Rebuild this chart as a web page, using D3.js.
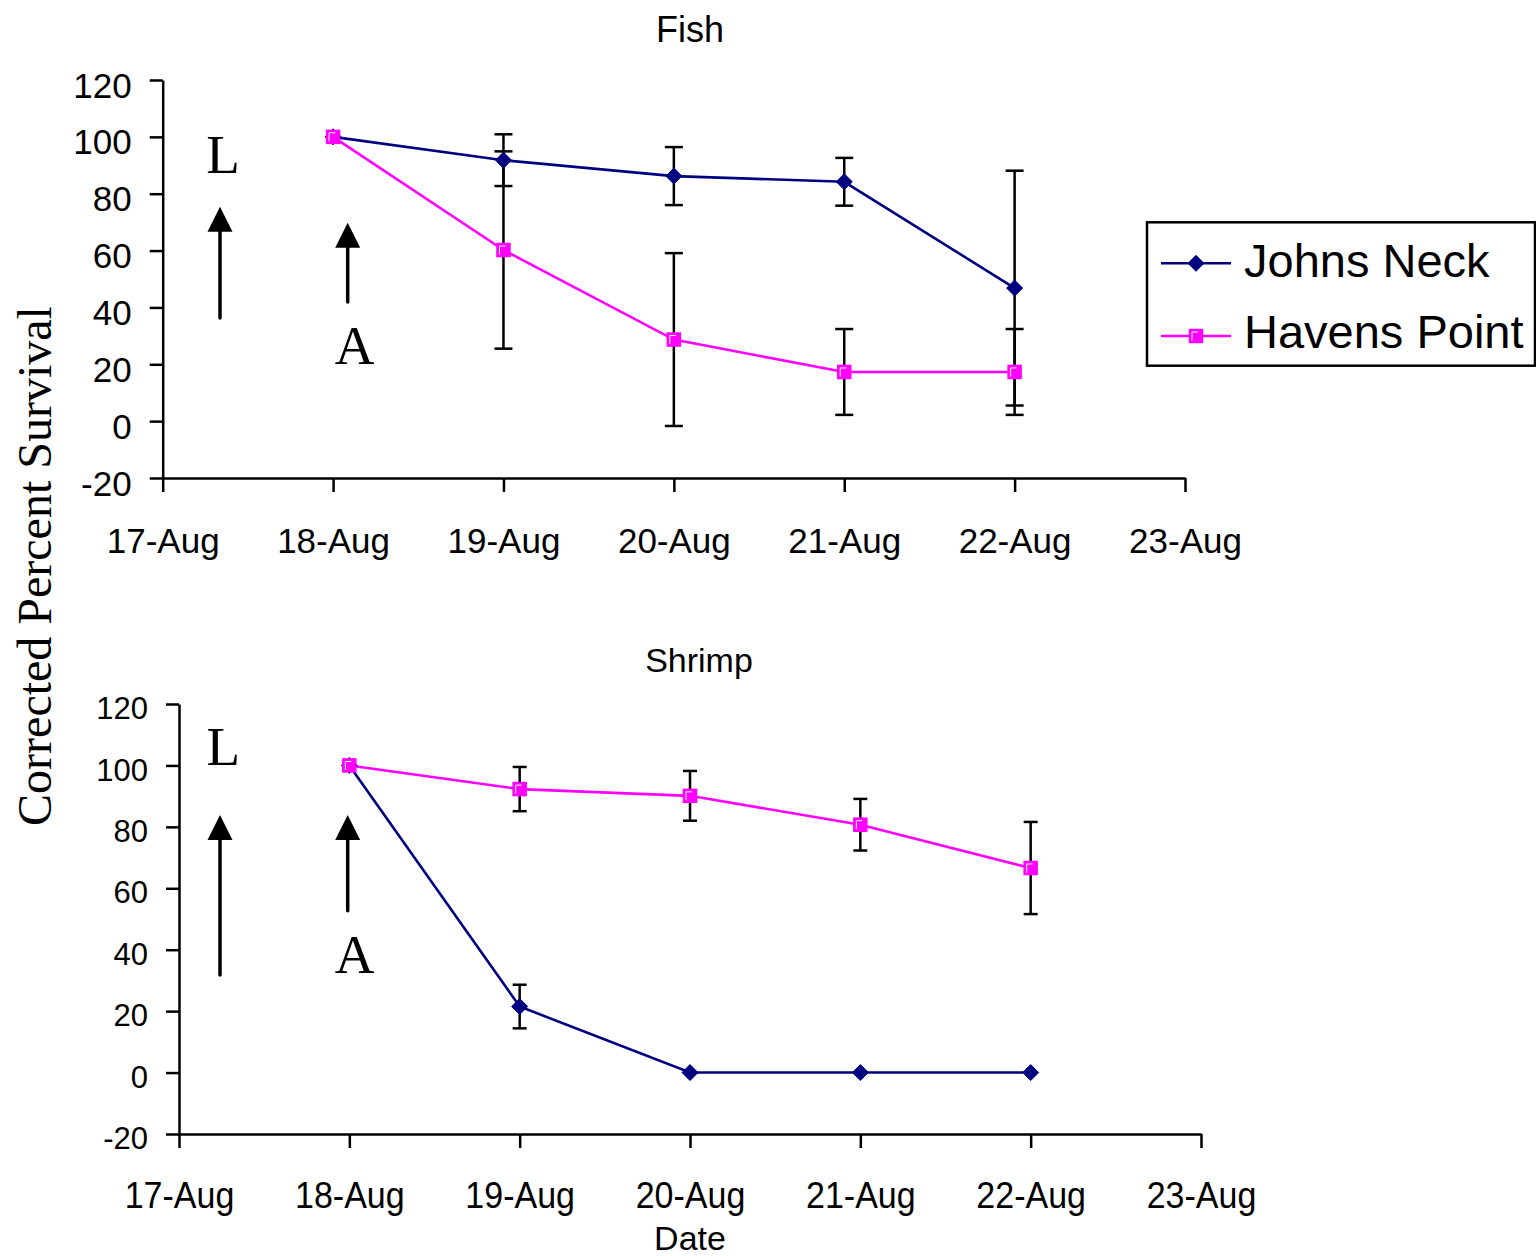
<!DOCTYPE html>
<html>
<head>
<meta charset="utf-8">
<script src="https://cdn.jsdelivr.net/npm/d3@7"></script>
<style>
  html, body { margin: 0; padding: 0; background: #fff; }
  svg { display: block; }
</style>
</head>
<body>
<svg id="chart" width="1536" height="1256"></svg>
<script>
// ---------------- DATA ----------------
const dateLabels = ["18-Aug", "19-Aug", "20-Aug", "21-Aug", "22-Aug"];
const axisStart = "17-Aug";
const axisEnd = "23-Aug";
const seriesNames = ["Johns Neck", "Havens Point"];

const fishJohns      = [100, 91.8, 86.2, 84.2, 46.8];
const fishJohnsErr   = [null, 9.1, 10.2, 8.4, 41.3];
const fishHavens     = [100, 60.2, 28.7, 17.3, 17.3];
const fishHavensErr  = [null, 34.7, 30.4, 15.1, 15.1];

const shrimpJohns     = [100, 21.5, 0, 0, 0];
const shrimpJohnsErr  = [null, 7.1, null, null, null];
const shrimpHavens    = [100, 92.3, 90.1, 80.7, 66.6];
const shrimpHavensErr = [null, 7.2, 8.1, 8.4, 15.0];

const yTicks = [-20, 0, 20, 40, 60, 80, 100, 120];

// ---------------- HELPERS ----------------
const parse = s => d3.timeParse("%d-%b-%Y")(s + "-2003");
const dates = dateLabels.map(parse);
const fmt = d3.timeFormat("%-d-%b");
const SANS = "'Liberation Sans', Arial, sans-serif";
const SERIF = "'Liberation Serif', 'Times New Roman', serif";
const NAVY = "#000080", MAG = "#FF00FF";

const svg = d3.select("#chart");

function diamond(g, x, y) {
  const r = 8;
  g.append("path")
    .attr("d", `M${x},${y-r}L${x+r},${y}L${x},${y+r}L${x-r},${y}Z`)
    .attr("fill", NAVY).attr("stroke", NAVY).attr("stroke-width", 1);
}
function square(g, x, y) {
  g.append("rect").attr("x", x-6.5).attr("y", y-6.5).attr("width", 13).attr("height", 13)
    .attr("fill", MAG).attr("stroke", MAG).attr("stroke-width", 1.5);
  g.append("path").attr("d", `M${x-4},${y+4.5}V${y-4}H${x+2}`)
    .attr("fill", "none").attr("stroke", "#fff").attr("stroke-width", 1);
}

function panel(cfg) {
  const x = d3.scaleTime().domain([parse(axisStart), parse(axisEnd)]).range([cfg.x0, cfg.x1]);
  const y = d3.scaleLinear().domain([-20, 120]).range([cfg.yb, cfg.yt]);
  const g = svg.append("g");

  // axes
  const xa = g.append("g").attr("transform", `translate(0,${cfg.yb})`)
    .call(d3.axisBottom(x).ticks(d3.timeDay.every(1)).tickFormat(fmt).tickSize(14).tickSizeOuter(0));
  xa.selectAll("text").attr("font-family", SANS).attr("font-size", cfg.xFont).attr("fill", "#000")
    .attr("dy", 0).attr("y", cfg.xLabOff / cfg.xStretch)
    .attr("transform", `scale(1,${cfg.xStretch})`);
  const ya = g.append("g").attr("transform", `translate(${cfg.x0},0)`)
    .call(d3.axisLeft(y).tickValues(yTicks).tickFormat(d => String(d))
      .tickSize(13).tickSizeOuter(0).tickPadding(cfg.yPad));
  ya.selectAll("text").attr("font-family", SANS).attr("font-size", cfg.yFont).attr("fill", "#000")
    .attr("dy", cfg.yDy);
  g.selectAll(".domain, .tick line").attr("stroke", "#000").attr("stroke-width", 2.5);

  // title
  g.append("text").attr("x", cfg.titleX).attr("y", cfg.titleY).attr("text-anchor", "middle")
    .attr("font-family", SANS).attr("font-size", cfg.titleFont).text(cfg.title);

  const series = [
    { vals: cfg.johns, err: cfg.johnsErr, color: NAVY, marker: diamond },
    { vals: cfg.havens, err: cfg.havensErr, color: MAG, marker: square }
  ];
  const line = d3.line().x((d, i) => x(dates[i])).y(d => y(d));
  series.forEach(s => {
    g.append("path").datum(s.vals).attr("d", line)
      .attr("fill", "none").attr("stroke", s.color).attr("stroke-width", 2.6);
  });
  // error bars
  series.forEach(s => {
    s.vals.forEach((v, i) => {
      const e = s.err[i];
      if (e == null) return;
      const cx = x(dates[i]);
      const eg = g.append("g").attr("stroke", "#000").attr("stroke-width", 2.5);
      eg.append("line").attr("x1", cx).attr("x2", cx).attr("y1", y(v + e)).attr("y2", y(v - e));
      [v + e, v - e].forEach(t => {
        eg.append("line").attr("x1", cx - cfg.cap / 2).attr("x2", cx + cfg.cap / 2)
          .attr("y1", y(t)).attr("y2", y(t));
      });
    });
  });
  // markers
  series.forEach(s => {
    s.vals.forEach((v, i) => s.marker(g, x(dates[i]), y(v)));
  });

  // annotations: L and A with arrows
  cfg.arrows.forEach(a => {
    g.append("line").attr("x1", a.x).attr("x2", a.x).attr("y1", a.bottom).attr("y2", a.tip + 20)
      .attr("stroke", "#000").attr("stroke-width", 3.5).attr("stroke-linecap", "round");
    g.append("path").attr("d", `M${a.x},${a.tip}L${a.x+12.5},${a.tip+25}L${a.x-12.5},${a.tip+25}Z`)
      .attr("fill", "#000");
  });
  cfg.letters.forEach(l => {
    g.append("text").attr("x", l.x).attr("y", l.y).attr("text-anchor", "middle")
      .attr("font-family", SERIF).attr("font-size", 55).text(l.t);
  });
}

panel({
  title: "Fish", titleX: 690, titleY: 42, titleFont: 36,
  x0: 162.7, x1: 1185, yt: 80, yb: 478,
  xFont: 35, xLabOff: 75, xStretch: 1, yFont: 35, yPad: 18, yDy: 17,
  cap: 18,
  johns: fishJohns, johnsErr: fishJohnsErr, havens: fishHavens, havensErr: fishHavensErr,
  arrows: [{ x: 220, tip: 206.7, bottom: 318 }, { x: 347.7, tip: 222.7, bottom: 302 }],
  letters: [{ t: "L", x: 223, y: 172.7 }, { t: "A", x: 354.5, y: 364.3 }]
});

panel({
  title: "Shrimp", titleX: 699, titleY: 672, titleFont: 34,
  x0: 179, x1: 1201, yt: 704, yb: 1134,
  xFont: 34, xLabOff: 74, xStretch: 1.1, yFont: 31, yPad: 18, yDy: 14.7,
  cap: 14,
  johns: shrimpJohns, johnsErr: shrimpJohnsErr, havens: shrimpHavens, havensErr: shrimpHavensErr,
  arrows: [{ x: 220, tip: 815, bottom: 975 }, { x: 347.7, tip: 815, bottom: 910.7 }],
  letters: [{ t: "L", x: 223.3, y: 765 }, { t: "A", x: 354.5, y: 973 }]
});

// shared axis titles
svg.append("text").attr("transform", "translate(51,566) rotate(-90)").attr("text-anchor", "middle")
  .attr("font-family", SERIF).attr("font-size", 48).text("Corrected Percent Survival");
svg.append("text").attr("x", 690).attr("y", 1250).attr("text-anchor", "middle")
  .attr("font-family", SANS).attr("font-size", 34).text("Date");

// legend
const lg = svg.append("g");
lg.append("rect").attr("x", 1147).attr("y", 222.3).attr("width", 388).attr("height", 143.4)
  .attr("fill", "#fff").attr("stroke", "#000").attr("stroke-width", 2.5);
const legendItems = [
  { name: seriesNames[0], color: NAVY, marker: diamond, ly: 263.3, ty: 276.7 },
  { name: seriesNames[1], color: MAG, marker: square, ly: 336, ty: 348.3 }
];
legendItems.forEach(it => {
  lg.append("line").attr("x1", 1161).attr("x2", 1231).attr("y1", it.ly).attr("y2", it.ly)
    .attr("stroke", it.color).attr("stroke-width", 2.5);
  it.marker(lg, 1196, it.ly);
  lg.append("text").attr("x", 1244).attr("y", it.ty).attr("font-family", SANS)
    .attr("font-size", 47).text(it.name);
});
</script>
</body>
</html>
